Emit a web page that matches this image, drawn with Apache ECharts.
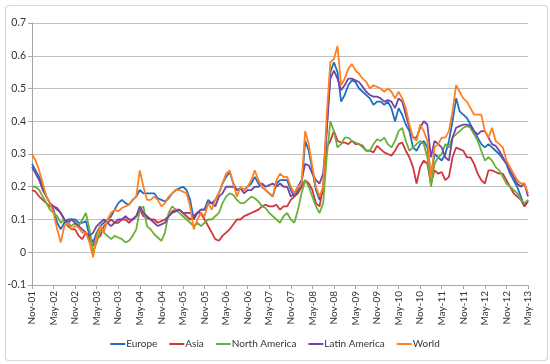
<!DOCTYPE html>
<html>
<head>
<meta charset="utf-8">
<script src="https://cdn.jsdelivr.net/npm/echarts@6/dist/echarts.min.js"></script>
<style>html,body{margin:0;padding:0;background:#fff;}#c{width:550px;height:364px;}</style>
</head>
<body>
<div id="c"></div>
<script>
// Monthly readings, index 0 = Nov-01 ... 138 = May-13
const tickLabels = ["Nov-01","May-02","Nov-02","May-03","Nov-03","May-04","Nov-04","May-05","Nov-05","May-06","Nov-06","May-07","Nov-07","May-08","Nov-08","May-09","Nov-09","May-10","Nov-10","May-11","Nov-11","May-12","Nov-12","May-13"];
const seriesNames = ["Europe","Asia","North America","Latin America","World"];

const europe = [0.27,0.25,0.23,0.20,0.17,0.15,0.13,0.09,0.07,0.09,0.10,0.10,0.10,0.09,0.09,0.095,0.05,0.03,0.06,0.08,
0.09,0.10,0.11,0.13,0.15,0.16,0.15,0.145,0.16,0.17,0.19,0.18,0.18,0.18,0.18,0.165,0.16,0.155,0.165,0.18,
0.19,0.195,0.20,0.19,0.16,0.10,0.12,0.13,0.13,0.16,0.15,0.16,0.18,0.21,0.23,0.245,0.21,0.19,0.195,0.19,
0.20,0.21,0.23,0.21,0.20,0.19,0.18,0.17,0.21,0.22,0.22,0.22,0.19,0.17,0.19,0.20,0.34,0.31,0.25,0.19,
0.16,0.19,0.38,0.55,0.58,0.55,0.46,0.48,0.51,0.525,0.52,0.50,0.49,0.48,0.47,0.45,0.46,0.46,0.45,0.46,
0.44,0.40,0.44,0.42,0.39,0.37,0.32,0.31,0.33,0.34,0.32,0.23,0.30,0.29,0.28,0.30,0.34,0.40,0.47,0.43,
0.42,0.41,0.39,0.37,0.35,0.33,0.32,0.33,0.32,0.31,0.30,0.285,0.27,0.24,0.22,0.20,0.17,0.14,0.16];

const asia = [0.19,0.185,0.17,0.16,0.15,0.14,0.14,0.135,0.12,0.10,0.08,0.07,0.07,0.05,0.04,0.06,0.04,0.02,0.04,0.05,
0.08,0.09,0.10,0.09,0.09,0.10,0.10,0.09,0.10,0.11,0.13,0.11,0.105,0.10,0.10,0.09,0.095,0.10,0.11,0.125,
0.13,0.13,0.12,0.11,0.10,0.11,0.12,0.12,0.10,0.08,0.06,0.04,0.035,0.05,0.06,0.07,0.085,0.10,0.10,0.11,
0.115,0.12,0.125,0.13,0.14,0.145,0.14,0.14,0.145,0.13,0.14,0.14,0.16,0.17,0.18,0.20,0.22,0.21,0.19,0.15,
0.14,0.20,0.32,0.34,0.37,0.34,0.335,0.335,0.33,0.34,0.33,0.33,0.325,0.31,0.31,0.305,0.325,0.315,0.305,0.30,
0.295,0.31,0.33,0.335,0.31,0.29,0.26,0.21,0.26,0.28,0.27,0.21,0.25,0.24,0.245,0.22,0.23,0.29,0.32,0.315,
0.31,0.29,0.29,0.27,0.24,0.22,0.21,0.25,0.25,0.245,0.24,0.24,0.22,0.20,0.18,0.17,0.16,0.14,0.155];

const northAmerica = [0.20,0.20,0.19,0.17,0.15,0.13,0.12,0.11,0.09,0.10,0.09,0.08,0.09,0.08,0.10,0.12,0.07,0.00,0.03,0.07,
0.06,0.05,0.04,0.05,0.045,0.04,0.03,0.035,0.05,0.07,0.13,0.14,0.08,0.07,0.055,0.045,0.035,0.06,0.12,0.14,
0.13,0.12,0.11,0.10,0.09,0.08,0.09,0.08,0.09,0.10,0.10,0.11,0.12,0.15,0.17,0.18,0.175,0.16,0.15,0.15,
0.16,0.17,0.165,0.155,0.14,0.135,0.12,0.11,0.10,0.09,0.11,0.12,0.10,0.09,0.13,0.18,0.22,0.20,0.17,0.14,
0.12,0.15,0.29,0.40,0.37,0.32,0.33,0.35,0.35,0.34,0.335,0.33,0.32,0.31,0.31,0.33,0.345,0.34,0.35,0.33,
0.32,0.34,0.37,0.38,0.34,0.31,0.32,0.33,0.34,0.33,0.29,0.20,0.27,0.29,0.30,0.33,0.32,0.35,0.36,0.37,
0.38,0.385,0.38,0.36,0.34,0.31,0.28,0.29,0.28,0.26,0.25,0.23,0.21,0.20,0.19,0.18,0.16,0.15,0.16];

const latinAmerica = [0.26,0.24,0.22,0.19,0.17,0.15,0.14,0.13,0.12,0.10,0.09,0.10,0.09,0.08,0.07,0.06,0.05,0.06,0.08,0.09,
0.10,0.09,0.08,0.09,0.10,0.10,0.11,0.10,0.10,0.11,0.14,0.12,0.11,0.10,0.09,0.08,0.085,0.09,0.11,0.12,
0.125,0.13,0.12,0.12,0.12,0.11,0.12,0.13,0.13,0.15,0.15,0.14,0.17,0.18,0.20,0.20,0.20,0.19,0.195,0.18,
0.19,0.19,0.20,0.20,0.21,0.20,0.205,0.21,0.20,0.21,0.20,0.20,0.17,0.18,0.20,0.22,0.27,0.265,0.24,0.22,
0.21,0.24,0.37,0.53,0.555,0.53,0.495,0.51,0.53,0.53,0.525,0.52,0.505,0.49,0.48,0.475,0.475,0.47,0.46,0.465,
0.46,0.44,0.47,0.46,0.42,0.38,0.35,0.35,0.38,0.40,0.39,0.29,0.34,0.33,0.32,0.29,0.28,0.35,0.38,0.385,
0.39,0.39,0.385,0.37,0.36,0.37,0.37,0.35,0.33,0.325,0.31,0.29,0.27,0.25,0.23,0.21,0.20,0.21,0.17];

const world = [0.30,0.28,0.25,0.21,0.17,0.15,0.12,0.07,0.03,0.08,0.09,0.07,0.08,0.075,0.06,0.06,0.03,-0.015,0.05,0.08,
0.06,0.10,0.12,0.13,0.125,0.135,0.14,0.145,0.16,0.17,0.25,0.20,0.16,0.16,0.17,0.16,0.14,0.15,0.17,0.18,
0.19,0.19,0.185,0.18,0.14,0.07,0.10,0.12,0.11,0.15,0.13,0.16,0.18,0.21,0.24,0.25,0.21,0.17,0.20,0.19,
0.20,0.22,0.25,0.22,0.20,0.19,0.18,0.17,0.22,0.24,0.23,0.23,0.20,0.18,0.20,0.21,0.37,0.33,0.26,0.20,
0.17,0.20,0.42,0.58,0.59,0.63,0.51,0.53,0.56,0.575,0.555,0.545,0.53,0.52,0.50,0.51,0.505,0.50,0.49,0.50,
0.49,0.47,0.49,0.47,0.44,0.39,0.35,0.34,0.39,0.37,0.34,0.23,0.32,0.33,0.35,0.35,0.37,0.43,0.51,0.49,
0.47,0.46,0.44,0.42,0.42,0.42,0.37,0.35,0.38,0.34,0.33,0.32,0.28,0.26,0.24,0.22,0.21,0.21,0.18];

const colors = ["#1F6FBF","#D0363C","#6CB03C","#7444A4","#FF8020"];
const values = [europe, asia, northAmerica, latinAmerica, world];

const chart = echarts.init(document.getElementById('c'), null, {renderer:'canvas'});
const font = 'Lato, "Liberation Sans", sans-serif';

chart.setOption({
  animation: false,
  color: colors,
  textStyle: {fontFamily: font},
  graphic: [{
    type: 'rect', left: 3, top: 3, silent: true,
    shape: {width: 542, height: 355, r: 3},
    style: {fill: 'none', stroke: '#d9d9d9', lineWidth: 1.2}
  }],
  grid: {left: 32, right: 22, top: 23, bottom: 79},
  legend: {
    bottom: 10, left: 'center',
    icon: 'rect', itemWidth: 15, itemHeight: 2, itemGap: 12,
    textStyle: {fontSize: 10, color: '#333', fontFamily: font, padding: [0,0,0,-4]},
    data: seriesNames
  },
  xAxis: {
    type: 'value', min: 0, max: 138, interval: 6,
    axisLine: {onZero: false, lineStyle: {color: '#a6a6a6', width: 1}},
    axisTick: {show: true, length: 4, lineStyle: {color: '#a6a6a6'}},
    splitLine: {show: false},
    axisLabel: {
      rotate: 90, fontSize: 10, color: '#333', margin: 6, fontFamily: font,
      formatter: v => tickLabels[Math.round(v / 6)] || ''
    }
  },
  yAxis: {
    type: 'value', min: -0.1, max: 0.7, interval: 0.1,
    axisLine: {show: true, lineStyle: {color: '#a6a6a6', width: 1}},
    axisTick: {show: true, length: 4, lineStyle: {color: '#a6a6a6'}},
    splitLine: {lineStyle: {color: '#bfbfbf', width: 1}},
    axisLabel: {
      fontSize: 10.5, color: '#333', margin: 6, fontFamily: font,
      formatter: v => String(Math.round(v * 10) / 10)
    }
  },
  series: seriesNames.map((n, k) => ({
    name: n, type: 'line', showSymbol: false, symbol: 'none',
    lineStyle: {width: 1.8, color: colors[k]},
    data: values[k].map((v, i) => [i, v])
  }))
});
</script>
</body>
</html>
